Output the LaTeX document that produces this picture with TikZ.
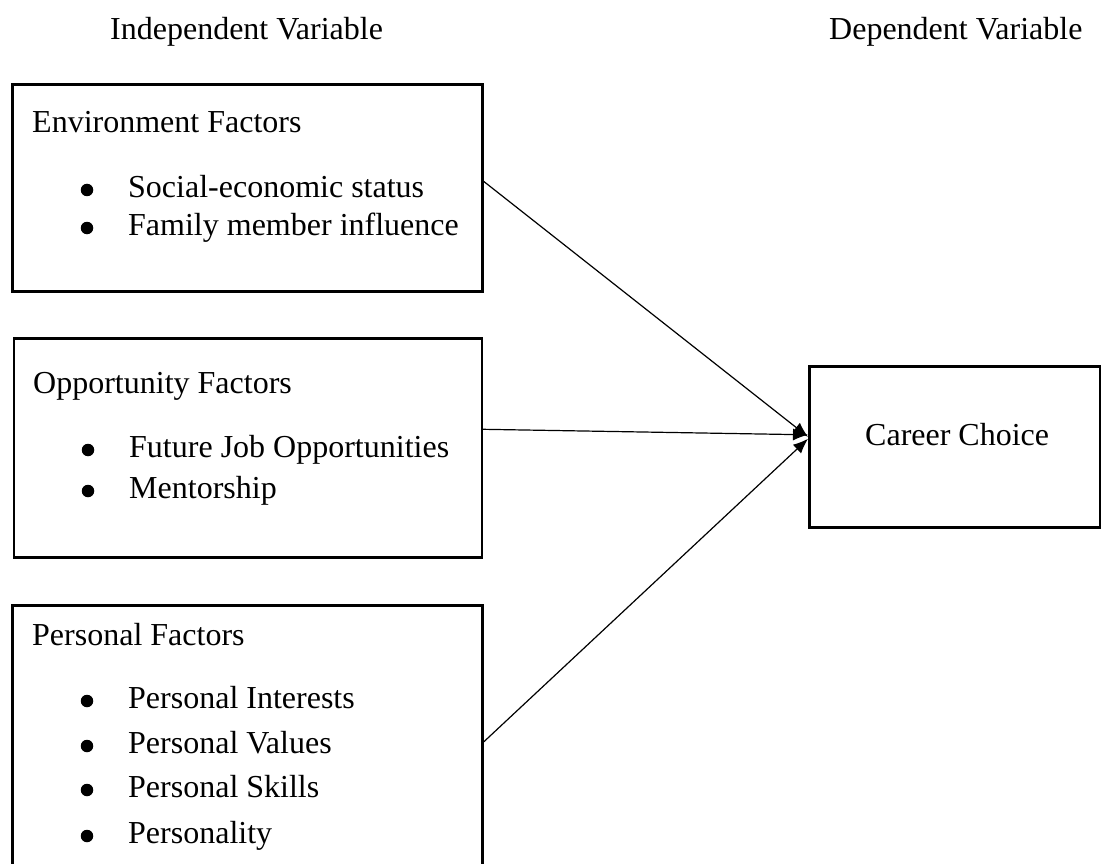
\documentclass[tikz,border=0pt]{standalone}
\usepackage{fontspec}
\setmainfont{Liberation Serif}
\usetikzlibrary{arrows.meta}
\begin{document}
\begin{tikzpicture}[x=1pt,y=-1pt,
  txt/.style={anchor=base west,inner sep=0pt,font=\fontsize{32}{38}\selectfont},
  box/.style={draw,line width=2.6pt,anchor=north west,inner sep=0pt},
  dot/.style={circle,fill,inner sep=0pt,minimum size=12.5pt},
  link/.style={line width=1.2pt,-{Latex[length=15pt,width=12pt]}}]
\clip (0,0) rectangle (1101,864);
\fill[white] (0,0) rectangle (1101,864);

% column headings
\node[txt] (hind) at (110,40) {Independent Variable};
\node[txt] (hdep) at (829,40) {Dependent Variable};

% independent variable boxes
\node[box,minimum width=470pt,minimum height=207pt] (env) at (11,83) {};
\node[box,minimum width=468pt,minimum height=219pt] (opp) at (12.5,337) {};
\node[box,minimum width=470pt,minimum height=300pt] (per) at (11,604) {};

% dependent variable box
\node[box,minimum width=291pt,minimum height=161pt] (car) at (808,365) {};
\node[txt] (cartxt) at (865,445) {Career Choice};

% environment factors
\node[txt] (envt) at (32,133) {Environment Factors};
\node[dot] (eb1) at (87,190) {};
\node[txt] (e1) at (128,197) {Social-economic status};
\node[dot] (eb2) at (87,228) {};
\node[txt] (e2) at (128,235) {Family member influence};

% opportunity factors
\node[txt] (oppt) at (33,393) {Opportunity Factors};
\node[dot] (ob1) at (88,450) {};
\node[txt] (o1) at (129,457) {Future Job Opportunities};
\node[dot] (ob2) at (88,491) {};
\node[txt] (o2) at (129,498) {Mentorship};

% personal factors
\node[txt] (pert) at (32,645) {Personal Factors};
\node[dot] (pb1) at (87,701) {};
\node[txt] (p1) at (128,708) {Personal Interests};
\node[dot] (pb2) at (87,746) {};
\node[txt] (p2) at (128,753) {Personal Values};
\node[dot] (pb3) at (87,790) {};
\node[txt] (p3) at (128,797) {Personal Skills};
\node[dot] (pb4) at (87,836) {};
\node[txt] (p4) at (128,843) {Personality};

% connectors into the dependent variable
\draw[link] ([yshift=6.5pt]env.east) -- ([yshift=10pt]car.west);
\draw[link] ([yshift=18.5pt]opp.east) -- ([yshift=12pt]car.west);
\draw[link] (per.north east |- 0,742) -- ([yshift=8pt]car.west);
\end{tikzpicture}
\end{document}
